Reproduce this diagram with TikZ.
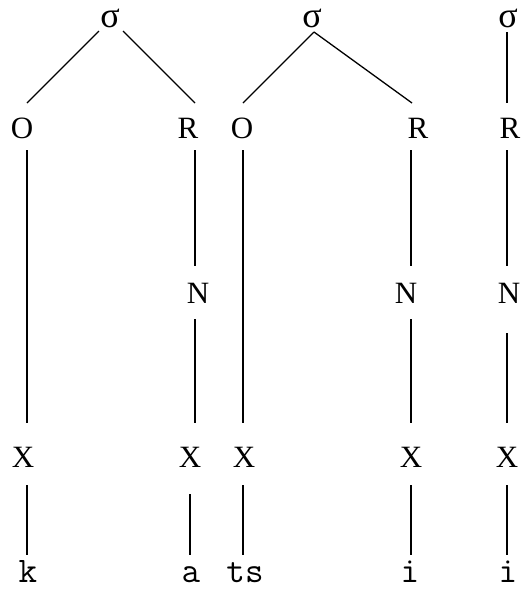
\documentclass[tikz,border=0pt]{standalone}
\usepackage{fontspec}
\setmainfont{Liberation Serif}
\newfontfamily\segfont{Latin Modern Mono}
\begin{document}
\begin{tikzpicture}[x=1pt,y=-1pt,
  lab/.style={inner sep=0pt,anchor=base,font=\fontsize{31}{31}\selectfont},
  sig/.style={inner sep=0pt,anchor=base,font=\fontsize{36}{36}\selectfont},
  seg/.style={inner sep=0pt,anchor=base,font=\fontsize{36}{36}\segfont},
  edge/.style={line width=1.3pt}]
\useasboundingbox (0,0) rectangle (521,590);
% tree 1
\node[sig] (s1) at (110,27) {σ};
\node[lab] (O1) at (22,138) {O};
\node[lab] (R1) at (188,138) {R};
\node[lab] (N1) at (198,303) {N};
\node[lab] (X1) at (23,467) {X};
\node[lab] (X2) at (190,467) {X};
\node[seg] (k) at (28,582) {k};
\node[seg] (a) at (191,582) {a};
% tree 2
\node[sig] (s2) at (312,27) {σ};
\node[lab] (O2) at (242,138) {O};
\node[lab] (R2) at (418,138) {R};
\node[lab] (N2) at (406,303) {N};
\node[lab] (X3) at (244,467) {X};
\node[lab] (X4) at (411,467) {X};
\node[seg] (ts) at (245,582) {ts};
\node[seg] (i1) at (410,582) {i};
% tree 3
\node[sig] (s3) at (508,27) {σ};
\node[lab] (R3) at (510,138) {R};
\node[lab] (N3) at (509,303) {N};
\node[lab] (X5) at (507,467) {X};
\node[seg] (i2) at (508,582) {i};
% connectors tree 1
\draw[edge] ([shift={(-11,4)}]s1.base) -- ([shift={(5,-35)}]O1.base);
\draw[edge] ([shift={(13,4)}]s1.base) -- ([shift={(7,-35)}]R1.base);
\draw[edge] ([shift={(5,12)}]O1.base) -- ([shift={(4,-44)}]X1.base);
\draw[edge] ([shift={(7,12)}]R1.base) -- ([shift={(-3,-37)}]N1.base);
\draw[edge] ([shift={(-3,16)}]N1.base) -- ([shift={(5,-44)}]X2.base);
\draw[edge] ([shift={(4,18)}]X1.base) -- ([shift={(-1,-27)}]k.base);
\draw[edge] ([shift={(0,27)}]X2.base) -- ([shift={(-1,-27)}]a.base);
% connectors tree 2
\draw[edge] ([shift={(2,5)}]s2.base) -- ([shift={(1,-35)}]O2.base);
\draw[edge] ([shift={(2,5)}]s2.base) -- ([shift={(-6,-35)}]R2.base);
\draw[edge] ([shift={(1,12)}]O2.base) -- ([shift={(-1,-44)}]X3.base);
\draw[edge] ([shift={(-1,18)}]X3.base) -- ([shift={(-2,-27)}]ts.base);
\draw[edge] ([shift={(-7,12)}]R2.base) -- ([shift={(5,-37)}]N2.base);
\draw[edge] ([shift={(5,16)}]N2.base) -- ([shift={(0,-44)}]X4.base);
\draw[edge] ([shift={(0,18)}]X4.base) -- ([shift={(1,-27)}]i1.base);
% connectors tree 3
\draw[edge] ([shift={(-1,5)}]s3.base) -- ([shift={(-3,-35)}]R3.base);
\draw[edge] ([shift={(-3,12)}]R3.base) -- ([shift={(-2,-37)}]N3.base);
\draw[edge] ([shift={(-2,30)}]N3.base) -- ([shift={(0,-44)}]X5.base);
\draw[edge] ([shift={(0,18)}]X5.base) -- ([shift={(-1,-27)}]i2.base);
\end{tikzpicture}
\end{document}
